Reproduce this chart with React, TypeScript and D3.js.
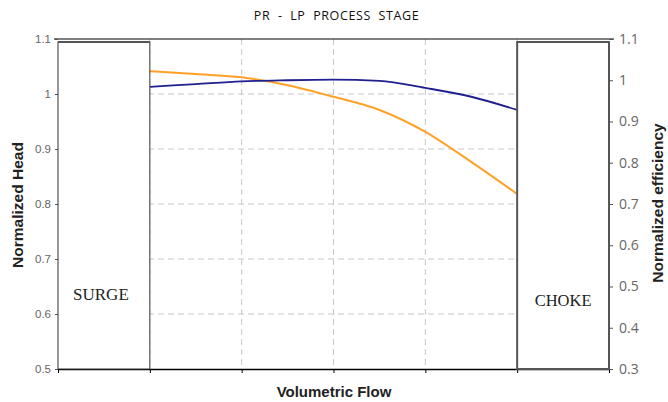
import { useRef, useEffect } from "react";
import * as d3 from "d3";

// flow positions (tick index units)
const flow = [1, 1.5, 2, 2.5, 3, 3.5, 4, 4.5, 5];
const headValues = [1.013, 1.018, 1.023, 1.025, 1.026, 1.024, 1.011, 0.995, 0.971];
const effValues = [1.022, 1.015, 1.007, 0.988, 0.96, 0.928, 0.875, 0.802, 0.724];
const headTicks = [0.5, 0.6, 0.7, 0.8, 0.9, 1.0, 1.1];
const effTicks = [0.3, 0.4, 0.5, 0.6, 0.7, 0.8, 0.9, 1.0, 1.1];
const flowTicks = [0, 1, 2, 3, 4, 5, 6];

const width = 668;
const height = 402;
const marginLeft = 58;
const marginRight = 59;
const marginTop = 39;
const marginBottom = 33;

export default function App() {
  const gxRef = useRef<SVGGElement | null>(null);
  const gyRef = useRef<SVGGElement | null>(null);
  const gy2Ref = useRef<SVGGElement | null>(null);

  const x = d3.scaleLinear().domain([0, 6]).range([marginLeft, width - marginRight]);
  const y = d3.scaleLinear().domain([0.5, 1.1]).range([height - marginBottom, marginTop]);
  const y2 = d3.scaleLinear().domain([0.3, 1.1]).range([height - marginBottom, marginTop]);

  const headLine = d3
    .line<number>()
    .x((_, i) => x(flow[i]))
    .y(d => y(d))
    .curve(d3.curveMonotoneX);
  const effLine = d3
    .line<number>()
    .x((_, i) => x(flow[i]))
    .y(d => y2(d))
    .curve(d3.curveMonotoneX);

  useEffect(() => {
    if (gxRef.current) {
      const g = d3.select(gxRef.current);
      g.call(d3.axisBottom(x).tickValues(flowTicks).tickSizeInner(4).tickSizeOuter(0).tickFormat(() => ""));
      g.select(".domain").attr("stroke", "#000").attr("stroke-width", 1.5);
      g.selectAll(".tick line").attr("stroke", "#000");
    }
    if (gyRef.current) {
      const g = d3.select(gyRef.current);
      g.call(d3.axisLeft(y).tickValues(headTicks).tickSizeInner(3).tickSizeOuter(0).tickPadding(4).tickFormat(d3.format("~g")));
      g.select(".domain").remove();
      g.selectAll(".tick line").attr("stroke", "#555");
      g.selectAll("text")
        .attr("fill", "#666")
        .attr("font-size", 11.5)
        .attr("font-family", "Liberation Sans, Arial, sans-serif");
    }
    if (gy2Ref.current) {
      const g = d3.select(gy2Ref.current);
      g.call(d3.axisRight(y2).tickValues(effTicks).tickSizeInner(4).tickSizeOuter(0).tickPadding(6).tickFormat(d3.format("~g")));
      g.select(".domain").remove();
      g.selectAll(".tick line").attr("stroke", "#555");
      g.selectAll("text")
        .attr("fill", "#666")
        .attr("font-size", 14)
        .attr("font-family", "Open Sans, sans-serif");
    }
  }, []);

  const x0 = marginLeft;
  const x1 = width - marginRight;
  const yTop = marginTop;
  const yBot = height - marginBottom;
  const boxTop = yTop + 3;

  return (
    <svg width={width} height={height} style={{ position: "absolute", left: 0, top: 0, background: "#fff" }}>
      <text
        x={336.5}
        y={20}
        textAnchor="middle"
        fontFamily="Open Sans, sans-serif"
        fontSize={12.5}
        letterSpacing={0.6}
        fill="#111"
        style={{ whiteSpace: "pre" }}
      >
        {"PR  -  LP  PROCESS  STAGE"}
      </text>
      {/* grid */}
      <g stroke="#c8c8c8" strokeDasharray="6,4" strokeWidth={1}>
        {headTicks.slice(1, -1).map(t => (
          <line key={"h" + t} x1={x0} x2={x1} y1={y(t)} y2={y(t)} />
        ))}
        {flowTicks.slice(1, -1).map(t => (
          <line key={"v" + t} x1={x(t)} x2={x(t)} y1={yTop} y2={yBot} />
        ))}
      </g>
      {/* top border */}
      <line x1={x0 - 4} x2={x1 + 5} y1={yTop} y2={yTop} stroke="#000" strokeWidth={1.2} />
      <g ref={gxRef} transform={`translate(0,${yBot})`} />
      <g ref={gyRef} transform={`translate(${x0},0)`} />
      <g ref={gy2Ref} transform={`translate(${x1},0)`} />
      {/* curves */}
      <path d={effLine(effValues) || undefined} fill="none" stroke="#ffa126" strokeWidth={2} />
      <path d={headLine(headValues) || undefined} fill="none" stroke="#1f1f8f" strokeWidth={1.8} />
      {/* surge / choke regions */}
      <rect x={x(0)} y={boxTop} width={x(1) - x(0)} height={yBot - boxTop} fill="#fff" stroke="#333" strokeWidth={1} />
      <line x1={x(0)} x2={x(1)} y1={boxTop} y2={boxTop} stroke="#555" strokeWidth={2} />
      <rect x={x(5)} y={boxTop} width={x(6) - x(5)} height={yBot - boxTop} fill="#fff" stroke="#555" strokeWidth={2} />
      <text x={(x(0) + x(1)) / 2 - 3} y={300} textAnchor="middle" fontFamily="Liberation Serif, serif" fontSize={17} fill="#222">
        SURGE
      </text>
      <text x={(x(5) + x(6)) / 2} y={306} textAnchor="middle" fontFamily="Liberation Serif, serif" fontSize={16.5} fill="#222">
        CHOKE
      </text>
      {/* axis titles */}
      <text
        transform={`translate(23,${205}) rotate(-90)`}
        textAnchor="middle"
        fontFamily="Liberation Sans, Arial, sans-serif"
        fontWeight="bold"
        fontSize={15.5}
        fill="#222"
      >
        Normalized Head
      </text>
      <text
        transform={`translate(663,${203}) rotate(-90)`}
        textAnchor="middle"
        fontFamily="Liberation Sans, Arial, sans-serif"
        fontWeight="bold"
        fontSize={15.5}
        fill="#222"
      >
        Normalized efficiency
      </text>
      <text
        x={334}
        y={397}
        textAnchor="middle"
        fontFamily="Liberation Sans, Arial, sans-serif"
        fontWeight="bold"
        fontSize={15}
        fill="#222"
      >
        Volumetric Flow
      </text>
    </svg>
  );
}
